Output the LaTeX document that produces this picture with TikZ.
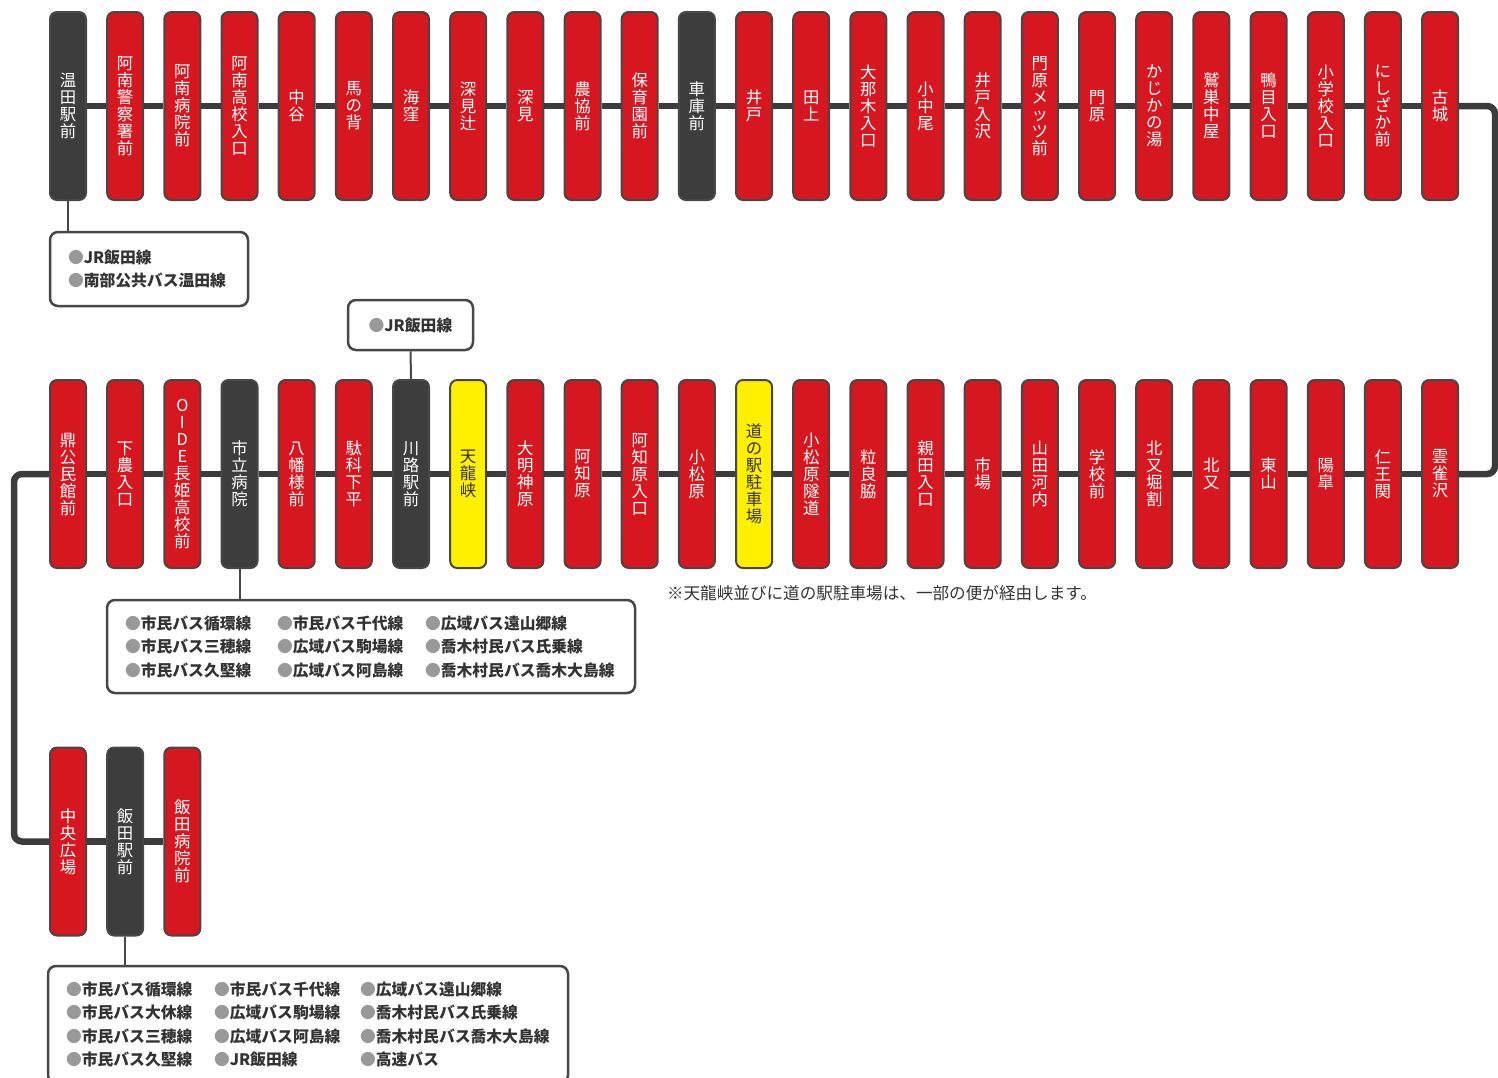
\documentclass[tikz,border=0pt]{standalone}
\usepackage{fontspec}
\newfontfamily\jpfont{Noto Sans CJK JP}
\definecolor{stopred}{HTML}{D6171F}
\definecolor{stopdark}{HTML}{3D3D3D}
\definecolor{stopyellow}{HTML}{FFF000}
\definecolor{edgegray}{HTML}{474747}
\definecolor{linegray}{HTML}{3C3C3C}
\definecolor{textgray}{HTML}{333333}
\definecolor{dotgray}{HTML}{999999}

% stack the characters of a name one above the other
\def\stackcharsend#1{}
\def\stackcharsnext#1{\\\stackchars#1}
\def\stackchars#1#2{#1\ifx\relax#2\expandafter\stackcharsend\else\expandafter\stackcharsnext\fi#2}
\newcommand\legdot{{\color{dotgray}●}}
\newcommand\legcol[2]{\makebox[#1][l]{\legdot #2}}

\tikzset{
  stop/.style={draw=edgegray, line width=1pt, rounded corners=3.5pt, minimum width=18pt, minimum height=94pt,
    inner sep=0pt, text width=12pt, align=center, font=\jpfont\fontsize{8.2}{8.5}\selectfont},
  redstop/.style={stop, fill=stopred, text=white},
  darkstop/.style={stop, fill=stopdark, text=white},
  yellowstop/.style={stop, fill=stopyellow, text=textgray},
  route/.style={draw=linegray, line width=3.25pt},
  tie/.style={draw=edgegray, line width=1pt},
  legend/.style={draw=edgegray, line width=1.25pt, rounded corners=4pt, inner xsep=9pt, inner ysep=0pt,
    align=left, text=textgray, font=\jpfont\bfseries\fontsize{7.9}{11.75}\selectfont}
}

\begin{document}
\begin{tikzpicture}[x=0.5pt, y=-0.5pt]
\useasboundingbox (0,0) rectangle (1498,1077);

% upper row
\foreach \lbl/\kind [count=\i] in {温田駅前/darkstop,阿南警察署前/redstop,阿南病院前/redstop,阿南高校入口/redstop,
  中谷/redstop,馬の背/redstop,海窪/redstop,深見辻/redstop,深見/redstop,農協前/redstop,保育園前/redstop,
  車庫前/darkstop,井戸/redstop,田上/redstop,大那木入口/redstop,小中尾/redstop,井戸入沢/redstop,
  門原メッツ前/redstop,門原/redstop,かじかの湯/redstop,鷲巣中屋/redstop,鴨目入口/redstop,
  小学校入口/redstop,にしざか前/redstop,古城/redstop}
  \node[\kind] (t\i) at ({68+57.17*(\i-1)},106) {\expandafter\stackchars\lbl\relax};

% middle row
\foreach \lbl/\kind [count=\i] in {鼎公民館前/redstop,下農入口/redstop,OIDE長姫高校前/redstop,市立病院/darkstop,
  八幡様前/redstop,駄科下平/redstop,川路駅前/darkstop,天龍峡/yellowstop,大明神原/redstop,阿知原/redstop,
  阿知原入口/redstop,小松原/redstop,道の駅駐車場/yellowstop,小松原隧道/redstop,粒良脇/redstop,
  親田入口/redstop,市場/redstop,山田河内/redstop,学校前/redstop,北又堀割/redstop,北又/redstop,
  東山/redstop,陽皐/redstop,仁王関/redstop,雲雀沢/redstop}
  \node[\kind] (m\i) at ({68+57.17*(\i-1)},474) {\expandafter\stackchars\lbl\relax};

% lower row
\foreach \lbl/\kind [count=\i] in {中央広場/redstop,飯田駅前/darkstop,飯田病院前/redstop}
  \node[\kind] (b\i) at ({68+57.17*(\i-1)},841.5) {\expandafter\stackchars\lbl\relax};

% route
\foreach \i in {1,...,24} {
  \pgfmathtruncatemacro\j{\i+1}
  \draw[route] (t\i) -- (t\j);
  \draw[route] (m\i) -- (m\j);
}
\draw[route] (b1) -- (b2);
\draw[route] (b2) -- (b3);
\coordinate (rturn) at (1495,474);
\coordinate (lturn) at (14,841.5);
\draw[route, rounded corners=4pt] (t25.east) -| (rturn) -- (m25.east);
\draw[route, rounded corners=4pt] (m1.west) -| (lturn) -- (b1.west);

% transfers
\node[legend, text width=81pt, minimum height=37pt] (leg1) at (149,269)
  {\legdot JR飯田線\\\legdot 南部公共バス温田線};
\node[legend, minimum width=62.5pt, minimum height=25pt] (leg2) at (410.5,325) {\legdot JR飯田線};
\node[legend, text width=246pt, minimum height=46.5pt] (leg3) at (371,646.5)
  {\legcol{76pt}{市民バス循環線}\legcol{74pt}{市民バス千代線}\legcol{96pt}{広域バス遠山郷線}\\
   \legcol{76pt}{市民バス三穂線}\legcol{74pt}{広域バス駒場線}\legcol{96pt}{喬木村民バス氏乗線}\\
   \legcol{76pt}{市民バス久堅線}\legcol{74pt}{広域バス阿島線}\legcol{96pt}{喬木村民バス喬木大島線}};
\node[legend, text width=242pt, minimum height=58.5pt] (leg4) at (308,1024.5)
  {\legcol{74pt}{市民バス循環線}\legcol{73pt}{市民バス千代線}\legcol{95pt}{広域バス遠山郷線}\\
   \legcol{74pt}{市民バス大休線}\legcol{73pt}{広域バス駒場線}\legcol{95pt}{喬木村民バス氏乗線}\\
   \legcol{74pt}{市民バス三穂線}\legcol{73pt}{広域バス阿島線}\legcol{95pt}{喬木村民バス喬木大島線}\\
   \legcol{74pt}{市民バス久堅線}\legcol{73pt}{JR飯田線}\legcol{95pt}{高速バス}};

\draw[tie] (t1.south) -- (t1.south |- leg1.north);
\draw[tie] (leg2.south) -- (m7.north);
\draw[tie] (m4.south) -- (m4.south |- leg3.north);
\draw[tie] (b2.south) -- (b2.south |- leg4.north);

\node[font=\jpfont\fontsize{8.3}{10}\selectfont, text=textgray] (note) at (882,593)
  {※天龍峡並びに道の駅駐車場は、一部の便が経由します。};
\end{tikzpicture}
\end{document}
